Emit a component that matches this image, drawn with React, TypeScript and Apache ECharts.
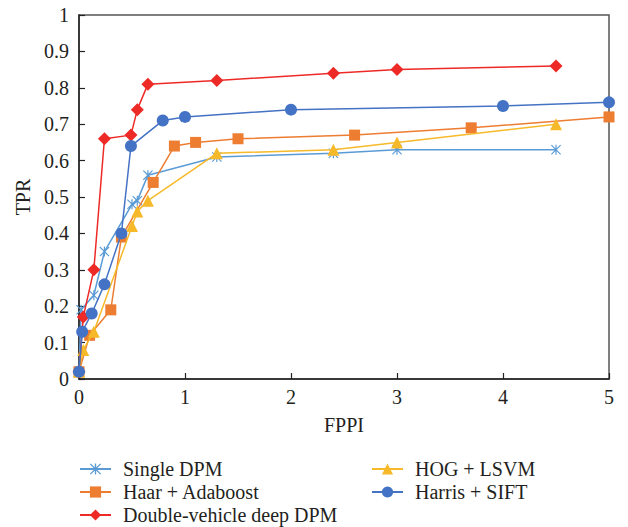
import React, { useEffect, useRef } from "react";
import * as echarts from "echarts";

const singleDPM: [number, number][] = [
  [0, 0.02], [0.02, 0.19], [0.14, 0.23], [0.24, 0.35], [0.5, 0.48], [0.55, 0.49],
  [0.65, 0.56], [1.3, 0.61], [2.4, 0.62], [3, 0.63], [4.5, 0.63],
];
const haarAdaboost: [number, number][] = [
  [0, 0.02], [0.1, 0.12], [0.3, 0.19], [0.4, 0.39], [0.7, 0.54], [0.9, 0.64],
  [1.1, 0.65], [1.5, 0.66], [2.6, 0.67], [3.7, 0.69], [5, 0.72],
];
const doubleVehicle: [number, number][] = [
  [0, 0.02], [0.04, 0.17], [0.14, 0.3], [0.24, 0.66], [0.49, 0.67], [0.55, 0.74],
  [0.65, 0.81], [1.3, 0.82], [2.4, 0.84], [3, 0.85], [4.5, 0.86],
];
const hogLSVM: [number, number][] = [
  [0, 0.02], [0.04, 0.08], [0.14, 0.13], [0.5, 0.42], [0.55, 0.46], [0.65, 0.49],
  [1.3, 0.62], [2.4, 0.63], [3, 0.65], [4.5, 0.7],
];
const harrisSIFT: [number, number][] = [
  [0, 0.02], [0.03, 0.13], [0.12, 0.18], [0.24, 0.26], [0.4, 0.4], [0.49, 0.64],
  [0.79, 0.71], [1, 0.72], [2, 0.74], [4, 0.75], [5, 0.76],
];

const seriesNames = [
  "Single DPM",
  "Haar + Adaboost",
  "Double-vehicle deep DPM",
  "HOG + LSVM",
  "Harris + SIFT",
];

const FONT = "Liberation Serif";
const TEXT = "#231f20";

const asterisk =
  "path://M4.4,0 L5.6,0 L5.6,10 L4.4,10 Z M0.8,0 L5,4.2 L9.2,0 L10,0.8 L5.8,5 L10,9.2 L9.2,10 L5,5.8 L0.8,10 L0,9.2 L4.2,5 L0,0.8 Z";

export default function App() {
  const ref = useRef<HTMLDivElement>(null);
  useEffect(() => {
    document.body.style.margin = "0";
    if (!ref.current) return;
    const chart = echarts.init(ref.current, undefined, { renderer: "svg" });
    const mk = (
      name: string,
      data: [number, number][],
      color: string,
      symbol: string,
      size: number,
      z: number
    ) => ({
      name,
      type: "line",
      data,
      color,
      symbol,
      symbolSize: size,
      showAllSymbol: true,
      z,
      lineStyle: { color, width: 1.5 },
      itemStyle: { color, borderWidth: 0 },
    });
    const legendPos: [number, number][] = [
      [79, 469],
      [79, 492],
      [79, 515],
      [371, 469],
      [371, 492],
    ];
    const legends = seriesNames.map((n, i) => ({
      data: [n],
      left: legendPos[i][0],
      top: legendPos[i][1] - 11,
      padding: 0,
      itemWidth: 31,
      itemHeight: 14,
      textStyle: {
        fontFamily: FONT,
        fontSize: 20,
        lineHeight: 22,
        color: TEXT,
        padding: [0, 0, 0, 7],
      },
    }));
    chart.setOption({
      animation: false,
      backgroundColor: "#fff",
      textStyle: { fontFamily: FONT },
      grid: {
        left: 79,
        right: 19,
        top: 15,
        bottom: 148,
        show: true,
        borderColor: "#555",
        borderWidth: 1.5,
      },
      legend: legends,
      xAxis: {
        type: "value",
        min: 0,
        max: 5,
        interval: 1,
        name: "FPPI",
        nameLocation: "middle",
        nameGap: 36,
        nameTextStyle: { fontFamily: FONT, fontSize: 20, color: TEXT },
        axisLine: { show: true, onZero: false, lineStyle: { color: "#222", width: 1.5 } },
        axisTick: { show: true, inside: true, length: 6, lineStyle: { color: "#222", width: 1.2 } },
        axisLabel: { fontFamily: FONT, fontSize: 20, color: TEXT, margin: 8 },
        splitLine: { show: false },
      },
      yAxis: {
        type: "value",
        min: 0,
        max: 1,
        interval: 0.1,
        name: "TPR",
        nameLocation: "middle",
        nameGap: 43,
        nameRotate: 90,
        nameTextStyle: { fontFamily: FONT, fontSize: 20, color: TEXT },
        axisLine: { show: true, onZero: false, lineStyle: { color: "#222", width: 1.5 } },
        axisTick: { show: true, inside: true, length: 6, lineStyle: { color: "#222", width: 1.2 } },
        axisLabel: { fontFamily: FONT, fontSize: 20, color: TEXT, margin: 10 },
        splitLine: { show: false },
      },
      series: [
        mk(seriesNames[0], singleDPM, "#5b9bd5", asterisk, 10, 2),
        mk(seriesNames[1], haarAdaboost, "#ed7d31", "rect", 11, 3),
        mk(seriesNames[2], doubleVehicle, "#ee2a27", "diamond", 13, 5),
        mk(seriesNames[3], hogLSVM, "#f6b929", "triangle", 12, 4),
        mk(seriesNames[4], harrisSIFT, "#4472c4", "circle", 12, 6),
      ],
    });
    return () => chart.dispose();
  }, []);
  return <div ref={ref} style={{ width: 628, height: 527 }} />;
}
